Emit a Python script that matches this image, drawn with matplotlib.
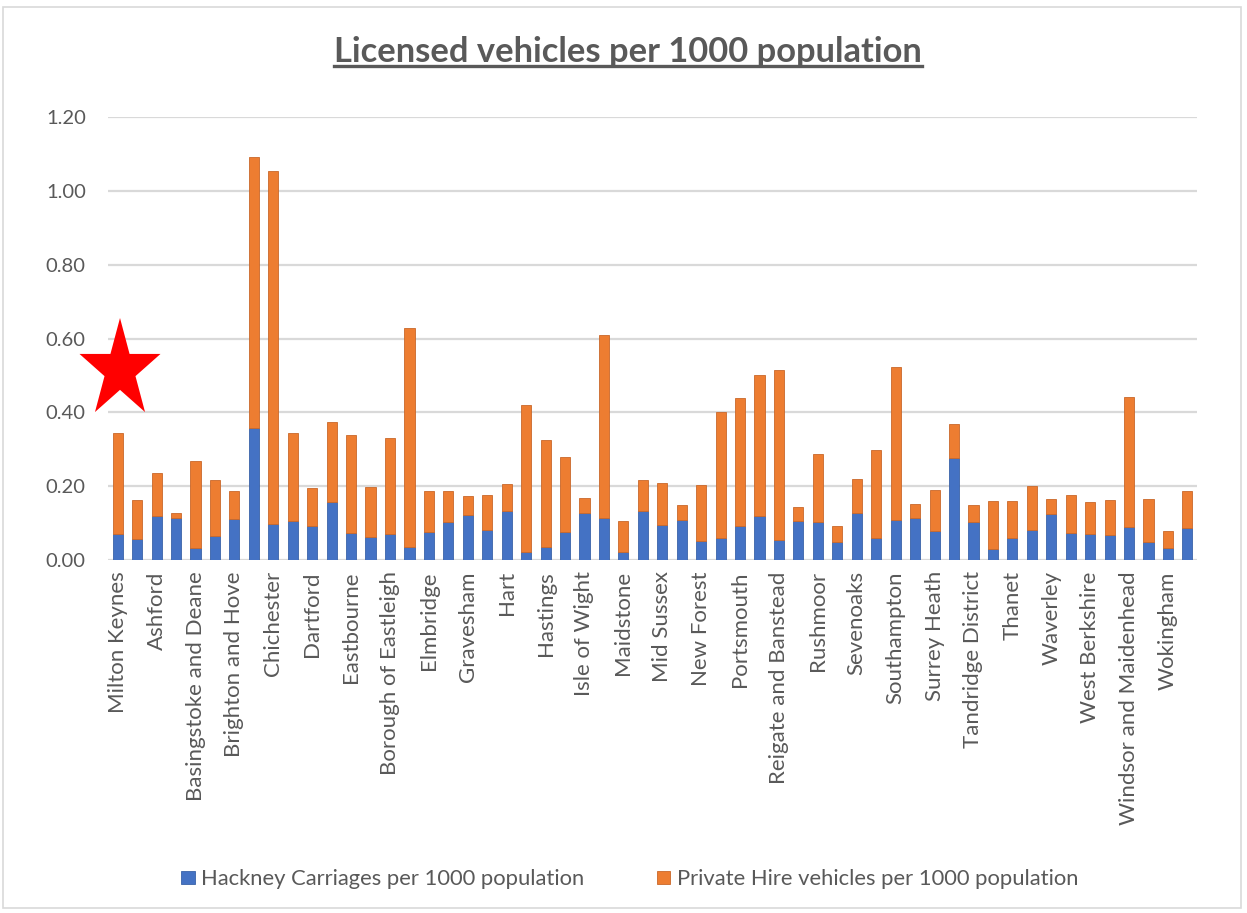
import numpy as np
import matplotlib.pyplot as plt
from matplotlib.patches import Polygon, Rectangle
from matplotlib.lines import Line2D

plt.rcParams['font.family'] = ['Lato', 'DejaVu Sans']

councils = [
    'Milton Keynes', 'Arun', 'Ashford', 'Aylesbury Vale', 'Basingstoke and Deane',
    'Bracknell Forest', 'Brighton and Hove', 'Canterbury', 'Chichester', 'Crawley',
    'Dartford', 'Dover', 'Eastbourne', 'East Hampshire', 'Borough of Eastleigh',
    'Epsom and Ewell', 'Elmbridge', 'Gosport', 'Gravesham', 'Guildford',
    'Hart', 'Havant', 'Hastings', 'Horsham', 'Isle of Wight',
    'Lewes', 'Maidstone', 'Medway', 'Mid Sussex', 'Mole Valley',
    'New Forest', 'Oxford', 'Portsmouth', 'Reading', 'Reigate and Banstead',
    'Rother', 'Rushmoor', 'Runnymede', 'Sevenoaks', 'Slough',
    'Southampton', 'Spelthorne', 'Surrey Heath', 'Swale', 'Tandridge District',
    'Test Valley', 'Thanet', 'Tunbridge Wells', 'Waverley', 'Wealden',
    'West Berkshire', 'Winchester', 'Windsor and Maidenhead', 'Woking', 'Wokingham',
    'Worthing',
]

hackney = [
    0.070, 0.058, 0.118, 0.113, 0.032, 0.066, 0.111, 0.359, 0.097, 0.107,
    0.091, 0.156, 0.073, 0.062, 0.071, 0.034, 0.076, 0.102, 0.122, 0.082,
    0.134, 0.023, 0.034, 0.077, 0.128, 0.115, 0.023, 0.134, 0.096, 0.109,
    0.052, 0.061, 0.093, 0.120, 0.055, 0.105, 0.104, 0.050, 0.127, 0.060,
    0.108, 0.115, 0.078, 0.276, 0.102, 0.031, 0.061, 0.082, 0.124, 0.074,
    0.071, 0.067, 0.089, 0.050, 0.032, 0.088,
]

private_hire = [
    0.275, 0.104, 0.119, 0.014, 0.236, 0.151, 0.077, 0.732, 0.958, 0.238,
    0.105, 0.218, 0.265, 0.137, 0.259, 0.595, 0.112, 0.086, 0.052, 0.095,
    0.071, 0.397, 0.291, 0.203, 0.040, 0.494, 0.082, 0.082, 0.114, 0.040,
    0.151, 0.340, 0.347, 0.380, 0.461, 0.039, 0.184, 0.043, 0.092, 0.238,
    0.414, 0.037, 0.113, 0.092, 0.047, 0.129, 0.100, 0.118, 0.040, 0.102,
    0.086, 0.095, 0.352, 0.116, 0.046, 0.099,
]

yticks = [0.0, 0.2, 0.4, 0.6, 0.8, 1.0, 1.2]

blue = '#4472C4'
orange = '#ED7D31'
grey_text = '#595959'
grid_col = '#D9D9D9'

fig = plt.figure(figsize=(12.47, 9.13), dpi=100)
ax = fig.add_axes([0.0866, 0.3866, 0.8734, 0.4852])

x = np.arange(len(councils))
ax.bar(x, hackney, width=0.52, color=blue, edgecolor='#3A62A8', linewidth=0.6,
       label='Hackney Carriages per 1000 population', zorder=3)
ax.bar(x, private_hire, width=0.52, bottom=hackney, color=orange,
       edgecolor='#C9682A', linewidth=0.6,
       label='Private Hire vehicles per 1000 population', zorder=3)

ax.set_xlim(-0.5, len(councils) - 0.5)
ax.set_ylim(0, 1.2)
ax.set_yticks(yticks)
ax.set_yticklabels([f'{v:.2f}' for v in yticks], fontsize=14.5)
ax.set_xticks(x[::2])
ax.set_xticklabels(councils[::2], rotation=90, fontsize=16)
ax.tick_params(axis='both', length=0, colors=grey_text)
ax.tick_params(axis='y', pad=16)
ax.tick_params(axis='x', pad=8)
ax.yaxis.grid(True, color=grid_col, linewidth=1.6, zorder=0)
for s in ax.spines.values():
    s.set_visible(False)

# title with an underline drawn beneath it
title = fig.text(0.5035, 0.943, 'Licensed vehicles per 1000 population',
                 ha='center', va='center', fontsize=24.8, fontweight='bold',
                 color=grey_text)
fig.canvas.draw()
bb = title.get_window_extent().transformed(fig.transFigure.inverted())
fig.add_artist(Line2D([bb.x0, bb.x1], [bb.y0 + 0.002, bb.y0 + 0.002],
                      transform=fig.transFigure, color=grey_text, linewidth=2.4))

fig.legend(loc='center', bbox_to_anchor=(0.505, 0.037), ncol=2, frameon=False,
           fontsize=15.8, labelcolor=grey_text, handlelength=0.6, handleheight=0.6,
           handletextpad=0.3, columnspacing=3.3)

# red star marker on the left
cx, cy, rx, ry = 120, 913 - 370, 42.6, 52.0
ang = np.pi / 2 + np.arange(10) * np.pi / 5
rad = np.where(np.arange(10) % 2 == 0, 1.0, 0.382)
pts = np.column_stack([(cx + rx * rad * np.cos(ang)) / 100,
                       (cy + ry * rad * np.sin(ang)) / 100])
fig.add_artist(Polygon(pts, closed=True, facecolor='#FF0000', edgecolor='none',
                       transform=fig.dpi_scale_trans, zorder=10))

# chart border
fig.add_artist(Rectangle((3 / 1247, 5 / 913), 1238 / 1247, 901 / 913,
                         transform=fig.transFigure, fill=False,
                         edgecolor=grid_col, linewidth=1.2))

fig.savefig('out.png', dpi=100)
